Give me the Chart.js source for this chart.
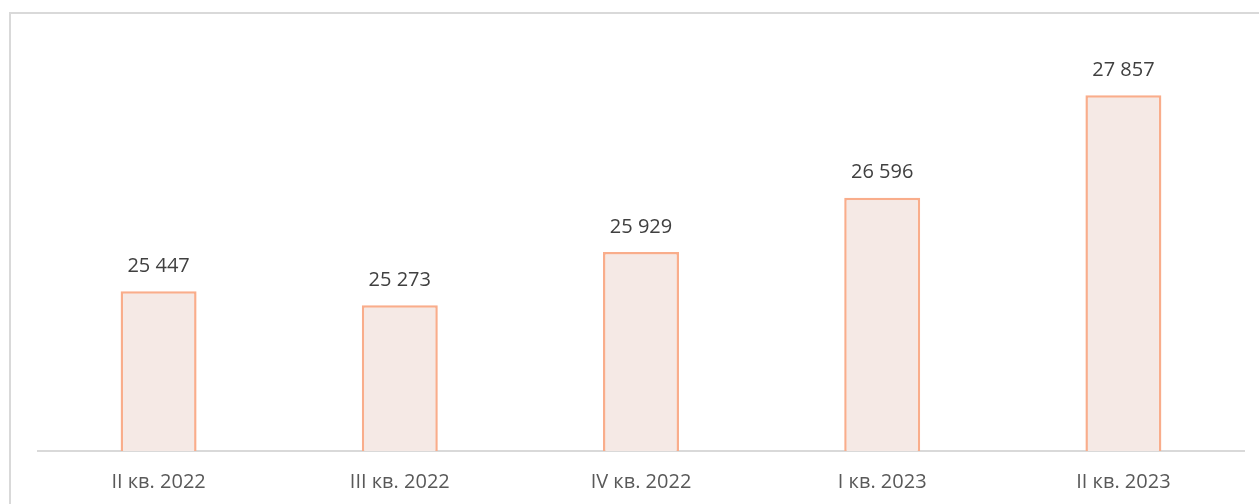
<!DOCTYPE html>
<html>
<head>
<meta charset="utf-8">
<script src="https://cdn.jsdelivr.net/npm/chart.js@4/dist/chart.umd.min.js"></script>
<style>
  html, body { margin: 0; padding: 0; background: #fff; overflow: hidden; }
  #frame { position: absolute; left: 9px; top: 12px; width: 1400px; height: 700px; border: 2px solid #d9d9d9; box-sizing: border-box; }
  #wrap { position: absolute; left: 0; top: 0; width: 1259px; height: 504px; }
</style>
</head>
<body>
<div id="frame"></div>
<div id="wrap"><canvas id="chart"></canvas></div>
<script>
const categories = ['II кв. 2022', 'III кв. 2022', 'IV кв. 2022', 'I кв. 2023', 'II кв. 2023'];
const values = [25447, 25273, 25929, 26596, 27857];

function fmt(v) {
  return String(v).replace(/\B(?=(\d{3})+(?!\d))/g, ' ');
}

// value labels above each bar
const barLabels = {
  id: 'barLabels',
  afterDatasetsDraw(chart) {
    const ctx = chart.ctx;
    const meta = chart.getDatasetMeta(0);
    ctx.save();
    ctx.font = '20px "Open Sans", sans-serif';
    ctx.fillStyle = '#404040';
    ctx.textAlign = 'center';
    ctx.textBaseline = 'middle';
    meta.data.forEach((bar, i) => {
      ctx.fillText(fmt(values[i]), bar.x, bar.y - 25);
    });
    ctx.restore();
  }
};

new Chart(document.getElementById('chart'), {
  type: 'bar',
  data: {
    labels: categories,
    datasets: [{
      data: values,
      backgroundColor: '#f5e9e5',
      borderColor: '#f9ad8b',
      borderWidth: 2.5,
      borderSkipped: 'bottom',
      categoryPercentage: 1,
      barPercentage: 0.315
    }]
  },
  options: {
    responsive: true,
    maintainAspectRatio: false,
    animation: false,
    layout: { padding: { left: 38, right: 15, top: 43, bottom: 0 } },
    plugins: { legend: { display: false }, tooltip: { enabled: false } },
    scales: {
      x: {
        grid: { display: false, drawTicks: false },
        border: { color: '#d9d9d9', width: 2 },
        ticks: { color: '#595959', font: { family: '"Open Sans", sans-serif', size: 20 }, padding: 19 },
        afterFit: s => { s.height = 53; }
      },
      y: {
        display: false,
        min: 23480,
        max: 28500
      }
    }
  },
  plugins: [barLabels]
});
</script>
</body>
</html>
